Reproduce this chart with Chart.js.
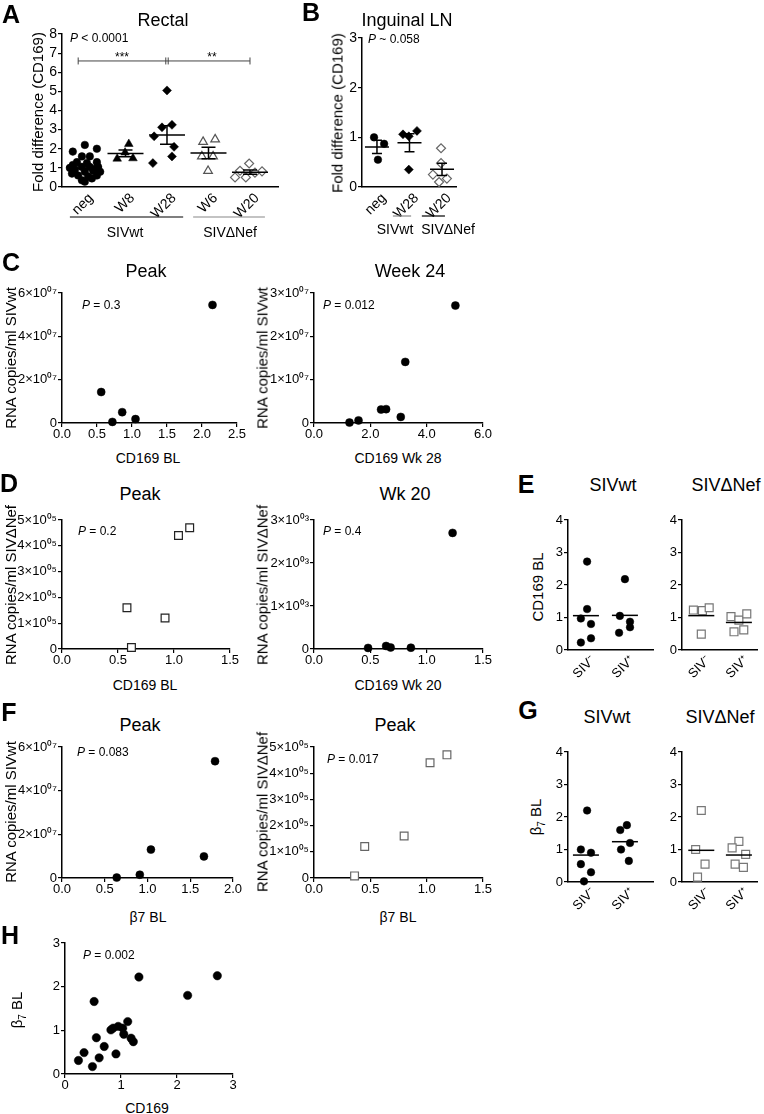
<!DOCTYPE html>
<html>
<head>
<meta charset="utf-8">
<script src="https://cdn.jsdelivr.net/npm/chart.js@4.4.1/dist/chart.umd.min.js"></script>
<style>
  body { margin: 0; background: #fff; }
  #fig { position: relative; width: 764px; height: 1114px; overflow: hidden;
         font-family: Arial, "Liberation Sans", Helvetica, sans-serif; color: #000; }
  .box { position: absolute; }
  .t { position: absolute; white-space: nowrap; line-height: 1; }
</style>
</head>
<body>
<div id="fig"></div>
<script>
// ---- data ----
// A: rectal CD169 fold difference
const aCats = ['neg', 'W8', 'W28', 'W6', 'W20'];
const aNegX = [1.02, 1.31, 0.73, 0.95, 1.14, 0.83, 1.07, 1.31, 0.73, 0.95, 1.14, 1.34, 0.78, 1.02, 1.22, 1.39, 0.86, 1.10, 1.31, 0.71, 0.95, 1.02, 1.19, 0.66, 1.27];
const aNegY = [2.2, 2.0, 1.85, 1.6, 1.6, 1.3, 1.25, 1.3, 1.15, 1.05, 1.05, 1.05, 0.9, 0.8, 0.85, 0.8, 0.6, 0.55, 0.6, 0.7, 0.35, 0.28, 0.45, 1.0, 0.95];
const aW8X = [2.08, 1.99, 1.80, 2.18];
const aW8Y = [2.25, 1.8, 1.48, 1.5];
const aW28X = [3.0, 3.12, 2.88, 2.69, 3.17, 3.12, 2.66];
const aW28Y = [5.05, 3.25, 3.12, 2.65, 2.1, 1.6, 1.25];
const aW6X = [3.87, 4.16, 3.84, 4.11, 3.99];
const aW6Y = [2.36, 2.49, 1.6, 1.6, 0.84];
const aW20X = [4.98, 4.76, 5.29, 4.64, 4.90, 5.12];
const aW20Y = [1.23, 0.85, 0.82, 0.5, 0.5, 0.75];

// B: inguinal LN
const bCats = ['neg', 'W28', 'W20'];
const bNegX = [0.91, 1.22, 1.03];
const bNegY = [1.0, 0.87, 0.55];
const bW28X = [1.80, 2.23, 1.98, 1.98];
const bW28Y = [1.06, 1.13, 1.02, 0.35];
const bW20X = [2.97, 2.97, 2.72, 2.91, 3.15];
const bW20Y = [0.78, 0.48, 0.25, 0.1, 0.17];

// C: RNA copies SIVwt vs CD169
const c1X = [2.15, 0.56, 0.86, 0.72, 1.05];
const c1Y = [5.45e7, 1.43e7, 0.5e7, 0.05e7, 0.18e7];
const c2X = [5.02, 3.24, 2.56, 2.38, 3.08, 1.58, 1.26];
const c2Y = [2.71e7, 1.41e7, 0.32e7, 0.31e7, 0.14e7, 0.06e7, 0.01e7];

// D: RNA copies SIVdeltaNef vs CD169
const d1X = [0.58, 0.92, 0.62, 1.04, 1.14];
const d1Y = [1.6e5, 1.2e5, 0.06e5, 4.4e5, 4.7e5];
const d2X = [1.23, 0.48, 0.64, 0.68, 0.86];
const d2Y = [2700, 25, 70, 35, 30];

// E: CD169 BL by outcome
const eCats = ['SIV⁻', 'SIV⁺'];
const eWtNegX = [1.03, 1.03, 0.87, 1.13, 1.13, 0.87];
const eWtNegY = [2.72, 1.26, 0.97, 0.8, 0.36, 0.23];
const eWtPosX = [2.0, 1.87, 2.13, 2.13, 1.85];
const eWtPosY = [2.18, 1.05, 0.87, 0.7, 0.53];
const eNefNegX = [0.79, 1.03, 1.21, 1.0];
const eNefNegY = [1.23, 1.21, 1.3, 0.49];
const eNefPosX = [1.79, 2.0, 2.21, 1.87, 2.13];
const eNefPosY = [1.03, 0.92, 1.11, 0.56, 0.62];

// F: RNA copies vs beta7 BL
const f1X = [1.79, 1.66, 1.04, 0.91, 0.64];
const f1Y = [5.35e7, 0.99e7, 1.3e7, 0.15e7, 0.02e7];
const f2X = [0.36, 0.45, 0.80, 1.03, 1.18];
const f2Y = [0.08e5, 1.2e5, 1.6e5, 4.4e5, 4.7e5];

// G: beta7 BL by outcome
const gWtNegX = [1.03, 0.87, 1.13, 0.87, 1.13, 0.95];
const gWtNegY = [2.2, 1.0, 0.9, 0.55, 0.3, 0.02];
const gWtPosX = [2.05, 1.88, 2.13, 1.9, 2.1];
const gWtPosY = [1.75, 1.6, 1.2, 1.0, 0.65];
const gNefNegX = [1.0, 0.85, 1.1, 0.9];
const gNefNegY = [2.2, 1.0, 0.55, 0.15];
const gNefPosX = [2.0, 1.82, 2.18, 1.9, 2.12];
const gNefPosY = [1.25, 1.05, 0.85, 0.55, 0.45];

// H: beta7 BL vs CD169
const hX = [0.24, 0.34, 0.49, 0.61, 0.52, 0.56, 0.70, 0.82, 0.86, 0.91, 0.95, 1.03, 1.05, 1.12, 1.18, 1.22, 1.32, 2.19, 2.72];
const hY = [0.31, 0.49, 0.17, 0.37, 1.66, 0.83, 0.63, 1.01, 1.05, 0.46, 1.09, 1.05, 0.91, 1.20, 0.82, 0.74, 2.22, 1.80, 2.25];

// ---- helpers ----
const FONT = 'Arial, "Liberation Sans", Helvetica, sans-serif';
Chart.defaults.font.family = FONT;
Chart.defaults.color = '#000';
const fig = document.getElementById('fig');

const pts = (xs, ys) => xs.map((x, i) => ({ x, y: ys[i] }));
const mark = (xs, ys, shape, fill, stroke, r) => ({
  data: pts(xs, ys), clip: false, showLine: false,
  pointStyle: shape, pointRadius: r, pointBackgroundColor: fill,
  pointBorderColor: stroke, pointBorderWidth: fill === stroke ? 0.5 : 1.2,
});
const sci = (exp, sup) => (v) => v === 0 ? '0' : `${Math.round(v / 10 ** exp)}×10${sup}`;

function yAxis(min, max, step, fmt, w, size) {
  return {
    type: 'linear', min, max,
    ticks: { stepSize: step, callback: fmt, font: { size }, padding: 1, autoSkip: false },
    grid: { drawOnChartArea: false, drawTicks: true, tickLength: 4, color: '#000', lineWidth: 1.2 },
    border: { display: true, color: '#000', width: 1.5 },
    afterFit: (s) => { s.width = w; },
  };
}
function xAxis(min, max, step, fmt, h) {
  return {
    type: 'linear', min, max,
    ticks: { stepSize: step, callback: fmt, font: { size: 13 }, padding: 0, maxRotation: 0, autoSkip: false },
    grid: { drawOnChartArea: false, drawTicks: true, tickLength: 4, color: '#000', lineWidth: 1.2 },
    border: { display: true, color: '#000', width: 1.5 },
    afterFit: (s) => { s.height = h; },
  };
}
function catAxis(cats, min, max, h, size) {
  return {
    type: 'linear', min, max,
    afterBuildTicks: (s) => { s.ticks = cats.map((_, i) => ({ value: i + 1 })); },
    ticks: { callback: (v) => cats[Math.round(v) - 1], font: { size }, minRotation: 45, maxRotation: 45,
             autoSkip: false, padding: 3, labelOffset: 7 },
    grid: { display: false, drawTicks: false },
    border: { display: true, color: '#000', width: 1.5 },
    afterFit: (s) => { s.height = h; },
  };
}

// mean line (+ SEM bars when cap > 0)
const meanPlugin = (groups, half, cap) => ({
  id: 'means',
  afterDatasetsDraw(chart) {
    const { ctx, scales: { x, y } } = chart;
    ctx.save();
    ctx.lineWidth = 1.5;
    groups.forEach((g) => {
      const n = g.v.length;
      const m = g.v.reduce((a, b) => a + b, 0) / n;
      const sd = Math.sqrt(g.v.reduce((a, b) => a + (b - m) ** 2, 0) / (n - 1));
      const se = sd / Math.sqrt(n);
      const cx = x.getPixelForValue(g.c);
      const py = y.getPixelForValue(m);
      ctx.strokeStyle = g.color || '#000';
      ctx.beginPath();
      ctx.moveTo(cx - half, py); ctx.lineTo(cx + half, py);
      if (cap) {
        const t = y.getPixelForValue(m + se), b = y.getPixelForValue(m - se);
        ctx.moveTo(cx, t); ctx.lineTo(cx, b);
        ctx.moveTo(cx - cap, t); ctx.lineTo(cx + cap, t);
        ctx.moveTo(cx - cap, b); ctx.lineTo(cx + cap, b);
      }
      ctx.stroke();
    });
    ctx.restore();
  },
});

// group underline bars below the category labels
const groupPlugin = (spans, offset) => ({
  id: 'groups',
  afterDraw(chart) {
    const { ctx, scales: { x }, chartArea } = chart;
    const py = chartArea.bottom + offset;
    ctx.save();
    ctx.lineWidth = 1.2;
    spans.forEach((s) => {
      ctx.strokeStyle = s.color;
      ctx.beginPath();
      ctx.moveTo(x.getPixelForValue(s.from), py);
      ctx.lineTo(x.getPixelForValue(s.to), py);
      ctx.stroke();
    });
    ctx.restore();
  },
});

// significance brackets in A
const bracketPlugin = (stops, level) => ({
  id: 'bracket',
  afterDraw(chart) {
    const { ctx, scales: { x, y } } = chart;
    const py = y.getPixelForValue(level);
    ctx.save();
    ctx.strokeStyle = '#444';
    ctx.lineWidth = 1;
    ctx.beginPath();
    ctx.moveTo(x.getPixelForValue(stops[0]), py);
    ctx.lineTo(x.getPixelForValue(stops[stops.length - 1]), py);
    stops.forEach((s, i) => {
      const px = x.getPixelForValue(s);
      const d = i === 1 ? 1.2 : 0;
      ctx.moveTo(px - d, py - 3.5); ctx.lineTo(px - d, py + 3.5);
      if (d) { ctx.moveTo(px + d, py - 3.5); ctx.lineTo(px + d, py + 3.5); }
    });
    ctx.stroke();
    ctx.restore();
  },
});

function panel(p) {
  const W = p.yW + p.w + p.rPad;
  const H = p.tPad + p.h + p.xH;
  const box = document.createElement('div');
  box.className = 'box';
  box.style.left = (p.l - p.yW) + 'px';
  box.style.top = (p.t - p.tPad) + 'px';
  const cv = document.createElement('canvas');
  cv.width = W; cv.height = H;
  cv.style.width = W + 'px'; cv.style.height = H + 'px';
  box.appendChild(cv);
  fig.appendChild(box);
  return new Chart(cv, {
    type: 'scatter',
    data: { datasets: p.datasets },
    options: {
      responsive: false, animation: false, events: [],
      layout: { padding: { top: p.tPad, right: p.rPad, left: 0, bottom: 0 } },
      plugins: { legend: { display: false }, tooltip: { enabled: false } },
      scales: { x: p.x, y: p.y },
    },
    plugins: p.plugins || [],
  });
}

function txt(html, x, y, size, o = {}) {
  const d = document.createElement('div');
  d.className = 't';
  d.innerHTML = html;
  d.style.left = x + 'px';
  d.style.top = y + 'px';
  d.style.fontSize = size + 'px';
  if (o.bold) d.style.fontWeight = 'bold';
  const tx = o.left ? '0' : '-50%';
  d.style.transform = `translate(${tx}, -50%)` + (o.rot ? ' rotate(-90deg)' : '');
  fig.appendChild(d);
}

// ---- A ----
panel({
  l: 62, t: 34, w: 216, h: 153, yW: 62, tPad: 10, rPad: 8, xH: 45,
  x: catAxis(aCats, 0.47, 5.675, 45, 14),
  y: yAxis(0, 8, 1, (v) => v, 62, 14),
  datasets: [
    mark(aNegX, aNegY, 'circle', '#000', '#000', 3.8),
    mark(aW8X, aW8Y, 'triangle', '#000', '#000', 5),
    mark(aW28X, aW28Y, 'rectRot', '#000', '#000', 4.5),
    mark(aW6X, aW6Y, 'triangle', '#fff', '#555', 5),
    mark(aW20X, aW20Y, 'rectRot', '#fff', '#666', 4.5),
  ],
  plugins: [
    meanPlugin([{ c: 1, v: aNegY }, { c: 2, v: aW8Y }, { c: 3, v: aW28Y }, { c: 4, v: aW6Y }, { c: 5, v: aW20Y }], 18, 7),
    groupPlugin([{ from: 0.66, to: 3.39, color: '#000' }, { from: 3.63, to: 5.36, color: '#888' }], 30),
    bracketPlugin([0.86, 3.0, 5.0], 6.59),
  ],
});
txt('A', 11, 14, 25, { bold: true });
txt('Rectal', 163, 20, 18);
txt('Fold difference (CD169)', 37, 112, 15, { rot: true });
txt('<i>P</i> &lt; 0.0001', 70, 38, 12, { left: true });
txt('***', 122, 57, 12);
txt('**', 212, 57, 12);
txt('SIVwt', 125, 232, 14);
txt('SIVΔNef', 230, 232, 14);

// ---- B ----
panel({
  l: 362, t: 38, w: 94, h: 149, yW: 30, tPad: 10, rPad: 8, xH: 45,
  x: catAxis(bCats, 0.54, 3.43, 45, 14),
  y: yAxis(0, 3, 1, (v) => v, 30, 14),
  datasets: [
    mark(bNegX, bNegY, 'circle', '#000', '#000', 3.8),
    mark(bW28X, bW28Y, 'rectRot', '#000', '#000', 4.5),
    mark(bW20X, bW20Y, 'rectRot', '#fff', '#666', 4.5),
  ],
  plugins: [
    meanPlugin([{ c: 1, v: bNegY }, { c: 2, v: bW28Y }, { c: 3, v: bW20Y }], 12, 5),
    groupPlugin([{ from: 1.49, to: 2.05, color: '#888' }, { from: 2.38, to: 3.09, color: '#000' }], 29),
  ],
});
txt('B', 311, 12, 25, { bold: true });
txt('Inguinal LN', 407, 20, 18);
txt('Fold difference (CD169)', 337, 113, 15, { rot: true });
txt('<i>P</i> ~ 0.058', 368, 39, 12, { left: true });
txt('SIVwt', 395, 229, 14);
txt('SIVΔNef', 448, 229, 14);

// ---- C ----
panel({
  l: 62, t: 293, w: 175, h: 130, yW: 62, tPad: 10, rPad: 14, xH: 24,
  x: xAxis(0, 2.5, 0.5, (v) => v.toFixed(1), 24),
  y: yAxis(0, 6e7, 2e7, sci(7, '⁰⁷'), 62, 13),
  datasets: [mark(c1X, c1Y, 'circle', '#000', '#000', 4)],
});
panel({
  l: 314, t: 293, w: 169, h: 130, yW: 58, tPad: 10, rPad: 14, xH: 24,
  x: xAxis(0, 6, 2, (v) => v.toFixed(1), 24),
  y: yAxis(0, 3e7, 1e7, sci(7, '⁰⁷'), 58, 13),
  datasets: [mark(c2X, c2Y, 'circle', '#000', '#000', 4)],
});
txt('C', 11, 262, 25, { bold: true });
txt('Peak', 146, 271, 18);
txt('Week 24', 410, 271, 18);
txt('RNA copies/ml SIVwt', 10, 358, 15, { rot: true });
txt('RNA copies/ml SIVwt', 262, 358, 15, { rot: true });
txt('<i>P</i> = 0.3', 82, 305, 12, { left: true });
txt('<i>P</i> = 0.012', 323, 305, 12, { left: true });
txt('CD169 BL', 148, 458, 14);
txt('CD169 Wk 28', 398, 458, 14);

// ---- D ----
panel({
  l: 62, t: 520, w: 168, h: 129, yW: 62, tPad: 10, rPad: 14, xH: 24,
  x: xAxis(0, 1.5, 0.5, (v) => v.toFixed(1), 24),
  y: yAxis(0, 5e5, 1e5, sci(5, '⁰⁵'), 62, 13),
  datasets: [mark(d1X, d1Y, 'rect', '#fff', '#222', 5.5)],
});
panel({
  l: 314, t: 520, w: 169, h: 129, yW: 58, tPad: 10, rPad: 14, xH: 24,
  x: xAxis(0, 1.5, 0.5, (v) => v.toFixed(1), 24),
  y: yAxis(0, 3e3, 1e3, sci(3, '⁰³'), 58, 13),
  datasets: [mark(d2X, d2Y, 'circle', '#000', '#000', 4)],
});
txt('D', 9, 483, 25, { bold: true });
txt('Peak', 140, 494, 18);
txt('Wk 20', 405, 494, 18);
txt('RNA copies/ml SIVΔNef', 10, 585, 15, { rot: true });
txt('RNA copies/ml SIVΔNef', 262, 585, 15, { rot: true });
txt('<i>P</i> = 0.2', 78, 531, 12, { left: true });
txt('<i>P</i> = 0.4', 323, 531, 12, { left: true });
txt('CD169 BL', 145, 685, 14);
txt('CD169 Wk 20', 398, 685, 14);

// ---- E ----
panel({
  l: 568, t: 520, w: 85, h: 130, yW: 20, tPad: 10, rPad: 6, xH: 35,
  x: catAxis(eCats, 0.54, 2.72, 35, 13),
  y: yAxis(0, 4, 1, (v) => v, 20, 13),
  datasets: [
    mark(eWtNegX, eWtNegY, 'circle', '#000', '#000', 3.8),
    mark(eWtPosX, eWtPosY, 'circle', '#000', '#000', 3.8),
  ],
  plugins: [meanPlugin([{ c: 1, v: eWtNegY }, { c: 2, v: eWtPosY }], 13, 0)],
});
panel({
  l: 682, t: 520, w: 78, h: 130, yW: 20, tPad: 10, rPad: 4, xH: 35,
  x: catAxis(eCats, 0.487, 2.487, 35, 13),
  y: yAxis(0, 4, 1, (v) => v, 20, 13),
  datasets: [
    mark(eNefNegX, eNefNegY, 'rect', '#fff', '#777', 5.6),
    mark(eNefPosX, eNefPosY, 'rect', '#fff', '#777', 5.6),
  ],
  plugins: [meanPlugin([{ c: 1, v: eNefNegY }, { c: 2, v: eNefPosY }], 13, 0)],
});
txt('E', 526, 484, 25, { bold: true });
txt('SIVwt', 613, 485, 18);
txt('SIVΔNef', 726, 485, 18);
txt('CD169 BL', 537, 587, 15, { rot: true });

// ---- F ----
panel({
  l: 62, t: 747, w: 171, h: 131, yW: 62, tPad: 10, rPad: 14, xH: 24,
  x: xAxis(0, 2, 0.5, (v) => v.toFixed(1), 24),
  y: yAxis(0, 6e7, 2e7, sci(7, '⁰⁷'), 62, 13),
  datasets: [mark(f1X, f1Y, 'circle', '#000', '#000', 4)],
});
panel({
  l: 314, t: 747, w: 169, h: 131, yW: 58, tPad: 10, rPad: 14, xH: 24,
  x: xAxis(0, 1.5, 0.5, (v) => v.toFixed(1), 24),
  y: yAxis(0, 5e5, 1e5, sci(5, '⁰⁵'), 58, 13),
  datasets: [mark(f2X, f2Y, 'rect', '#fff', '#666', 5.5)],
});
txt('F', 9, 712, 25, { bold: true });
txt('Peak', 140, 725, 18);
txt('Peak', 395, 725, 18);
txt('RNA copies/ml SIVwt', 10, 812, 15, { rot: true });
txt('RNA copies/ml SIVΔNef', 262, 812, 15, { rot: true });
txt('<i>P</i> = 0.083', 77, 752, 12, { left: true });
txt('<i>P</i> = 0.017', 327, 759, 12, { left: true });
txt('β7 BL', 148, 917, 14);
txt('β7 BL', 398, 917, 14);

// ---- G ----
panel({
  l: 568, t: 752, w: 85, h: 130, yW: 20, tPad: 10, rPad: 6, xH: 35,
  x: catAxis(eCats, 0.54, 2.72, 35, 13),
  y: yAxis(0, 4, 1, (v) => v, 20, 13),
  datasets: [
    mark(gWtNegX, gWtNegY, 'circle', '#000', '#000', 3.8),
    mark(gWtPosX, gWtPosY, 'circle', '#000', '#000', 3.8),
  ],
  plugins: [meanPlugin([{ c: 1, v: gWtNegY }, { c: 2, v: gWtPosY }], 13, 0)],
});
panel({
  l: 682, t: 752, w: 78, h: 130, yW: 20, tPad: 10, rPad: 4, xH: 35,
  x: catAxis(eCats, 0.487, 2.487, 35, 13),
  y: yAxis(0, 4, 1, (v) => v, 20, 13),
  datasets: [
    mark(gNefNegX, gNefNegY, 'rect', '#fff', '#777', 5.6),
    mark(gNefPosX, gNefPosY, 'rect', '#fff', '#777', 5.6),
  ],
  plugins: [meanPlugin([{ c: 1, v: gNefNegY }, { c: 2, v: gNefPosY }], 13, 0)],
});
txt('G', 528, 710, 25, { bold: true });
txt('SIVwt', 607, 717, 18);
txt('SIVΔNef', 720, 717, 18);
txt('β<sub style="font-size:10px">7</sub> BL', 537, 817, 15, { rot: true });

// ---- H ----
panel({
  l: 65, t: 943, w: 168, h: 131, yW: 30, tPad: 10, rPad: 14, xH: 24,
  x: xAxis(0, 3, 1, (v) => String(v), 24),
  y: yAxis(0, 3, 1, (v) => v, 30, 13),
  datasets: [mark(hX, hY, 'circle', '#000', '#000', 4.2)],
});
txt('H', 10, 935, 25, { bold: true });
txt('β<sub style="font-size:10px">7</sub> BL', 18, 1010, 15, { rot: true });
txt('<i>P</i> = 0.002', 83, 955, 12, { left: true });
txt('CD169', 147, 1108, 14);
</script>
</body>
</html>
